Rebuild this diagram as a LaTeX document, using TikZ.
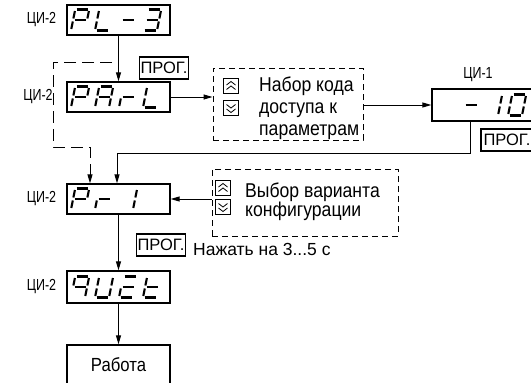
\documentclass[tikz,border=0pt]{standalone}
\usepackage{fontspec}
\setmainfont[FakeStretch=0.88]{Liberation Sans}
\newfontfamily\plainsans{Liberation Sans}
\newfontfamily\narrowsans[FakeStretch=0.78]{Liberation Sans}
\usetikzlibrary{arrows.meta,calc}
\tikzset{
  segline/.style={line width=2.1pt,line cap=butt},
  dispbox/.style={draw,line width=1.3pt,minimum width=103pt,minimum height=30pt,inner sep=0pt},
  progbox/.style={draw,line width=1.1pt,minimum width=48pt,minimum height=22pt,inner sep=1pt,font=\plainsans\fontsize{16.5}{18}\selectfont},
  dbox/.style={draw,line width=0.9pt,dash pattern=on 6pt off 4pt,inner sep=0pt},
  btn/.style={draw,line width=0.9pt,minimum size=15pt,inner sep=0pt},
  lbl/.style={font=\narrowsans\fontsize{16}{18}\selectfont,inner sep=0pt},
  txt/.style={font=\fontsize{20}{22}\selectfont,anchor=base west,inner sep=0pt},
  arr/.style={line width=1pt,-{Triangle[length=9pt,width=5pt]}},
  dsh/.style={line width=1pt,dash pattern=on 12pt off 6pt},
}
\def\sgA{(1.5,21)--(12.5,21)}
\def\sgB{(14,19.5)--(14,12)}
\def\sgC{(14,9)--(14,1.5)}
\def\sgD{(1.5,0)--(12.5,0)}
\def\sgE{(0,1.5)--(0,9)}
\def\sgF{(0,12)--(0,19.5)}
\def\sgG{(1.5,10.5)--(12.5,10.5)}
\newcommand\dglyph[3]{%
  \begin{scope}[shift={(#1,#2)},xslant=0.2]
    \foreach \s in {#3}{%
      \expandafter\let\expandafter\tmpseg\csname sg\s\endcsname
      \draw[segline] \tmpseg;}
  \end{scope}}
\newcommand\upchev[1]{%
  \draw[line width=0.8pt] ($(#1)+(-4.5,1)$) -- ++(4.5,3.5) -- ++(4.5,-3.5);
  \draw[line width=0.8pt] ($(#1)+(-4.5,-3.5)$) -- ++(4.5,3.5) -- ++(4.5,-3.5);}
\newcommand\downchev[1]{%
  \draw[line width=0.8pt] ($(#1)+(-4.5,-1)$) -- ++(4.5,-3.5) -- ++(4.5,3.5);
  \draw[line width=0.8pt] ($(#1)+(-4.5,3.5)$) -- ++(4.5,-3.5) -- ++(4.5,3.5);}
\begin{document}
\begin{tikzpicture}[x=1pt,y=1pt]
\useasboundingbox (0,0) rectangle (531,-383);
\clip (0,0) rectangle (531,-383);
% displays
\node[dispbox] (d1) at (118.5,-20) {};
\node[dispbox] (d2) at (118.5,-97) {};
\node[dispbox] (d3) at (118.5,-199) {};
\node[dispbox,minimum height=32pt] (d4) at (118.5,-287) {};
\node[dispbox,minimum height=32pt] (d5) at (483.5,-105) {};
\node[draw,line width=1.3pt,minimum width=103pt,minimum height=50pt,inner sep=0pt] (work) at (118.5,-370) {};
\node[font=\fontsize{19}{21}\selectfont,anchor=base,inner sep=0pt] (worktxt) at (118.5,-371) {Работа};
% labels
\node[lbl] (l1) at (41.5,-20) {ЦИ-2};
\node[lbl] (l2) at (38,-97) {ЦИ-2};
\node[lbl] (l3) at (41.5,-199) {ЦИ-2};
\node[lbl] (l4) at (41.5,-287) {ЦИ-2};
\node[lbl] (l5) at (478,-75) {ЦИ-1};
% glyphs PL-3
\dglyph{71}{-30.5}{A,B,F,G,E}
\dglyph{95}{-30.5}{F,E,D}
\dglyph{119}{-30.5}{G}
\dglyph{143}{-30.5}{A,B,G,C,D}
% PArL
\dglyph{71}{-107.5}{A,B,F,G,E}
\dglyph{95}{-107.5}{A,B,C,E,F,G}
\dglyph{119}{-107.5}{E,G}
\dglyph{143}{-107.5}{F,E,D}
% Pr 1
\dglyph{71}{-209.5}{A,B,F,G,E}
\dglyph{95}{-209.5}{E,G}
\dglyph{119}{-209.5}{B,C}
% qUit
\dglyph{71}{-297.5}{A,B,C,F,G}
\dglyph{95}{-297.5}{B,C,D,E,F}
\dglyph{119}{-297.5}{A,G,E,D}
\dglyph{143}{-297.5}{F,E,D,G}
% -10
\dglyph{462}{-115.5}{G}
\dglyph{484}{-115.5}{B,C}
\dglyph{508}{-115.5}{A,B,C,D,E,F}
% prog boxes
\node[progbox] (p1) at (164,-68) {ПРОГ.};
\node[progbox,minimum width=52pt] (p2) at (507,-140) {ПРОГ.};
\node[progbox] (p3) at (161,-245) {ПРОГ.};
\node[anchor=base west,inner sep=0pt,font=\plainsans\fontsize{17.5}{19}\selectfont] (press) at (193,-255) {Нажать на 3...5 с};
% dashed box 1
\node[dbox,minimum width=150pt,minimum height=72pt] (b1) at (288,-104) {};
\node[btn] (u1) at (231,-86) {};
\node[btn] (w1) at (231,-108) {};
\upchev{u1}
\downchev{w1}
\node[txt] (t1a) at (259,-91) {Набор кода};
\node[txt] (t1b) at (259,-113) {доступа к};
\node[txt] (t1c) at (259,-135) {параметрам};
% dashed box 2
\node[dbox,minimum width=186pt,minimum height=67pt] (b2) at (305,-202.5) {};
\node[btn] (u2) at (223,-188) {};
\node[btn] (w2) at (223,-207) {};
\upchev{u2}
\downchev{w2}
\node[txt] (t2a) at (245,-197) {Выбор варианта};
\node[txt] (t2b) at (245,-216) {конфигурации};
% connectors
\draw[arr] (d1.south) -- (d2.north);
\draw[arr] (d2.east) -- (d2.east -| b1.west);
\draw[arr] (b1.east |- d5.west) -- (d5.west);
\coordinate (r1) at (470,-153);
\draw[arr] (r1 |- d5.south) -- (r1) -| ($(d3.north)+(-1.5,0)$);
\coordinate (k1) at (112,-62);
\coordinate (k2) at (53,-62);
\coordinate (k3) at (53,-147);
\coordinate (k4) at (90,-147);
\draw[dsh] (k1) -- (k2) -- (k3) -- (k4) -- ($(k4 |- d3.north)+(0,9)$);
\draw[arr] ($(k4 |- d3.north)+(0,10)$) -- (k4 |- d3.north);
\draw[arr] (b2.west |- d3.east) -- (d3.east);
\draw[arr] (d3.south) -- (d4.north);
\draw[arr] (d4.south) -- (work.north);
\end{tikzpicture}
\end{document}
